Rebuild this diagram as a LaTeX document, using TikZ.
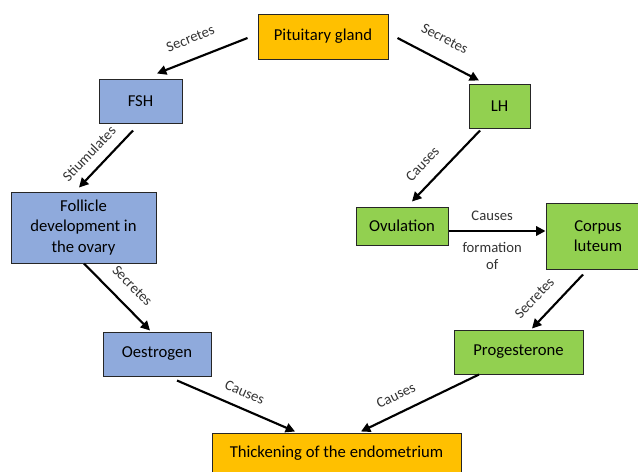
\documentclass[tikz,border=0pt]{standalone}
\usepackage{fontspec}
\setmainfont{Carlito}
\usetikzlibrary{arrows.meta,calc}
\definecolor{glandyellow}{HTML}{FFC000}
\definecolor{fshblue}{HTML}{8FAADC}
\definecolor{lhgreen}{HTML}{92D050}
\tikzstyle{box}=[draw=black!85,line width=0.75pt,inner sep=0pt,align=center,font=\fontsize{12.5}{15.5}\selectfont]
\tikzstyle{yellowbox}=[box,fill=glandyellow]
\tikzstyle{bluebox}=[box,fill=fshblue]
\tikzstyle{greenbox}=[box,fill=lhgreen]
\tikzstyle{arr}=[-{Triangle[length=7pt,width=7pt]},line width=1.6pt]
\tikzstyle{lbl}=[font=\fontsize{11}{13}\selectfont,inner xsep=1pt,text=black!80,align=center,sloped,anchor=south]

\begin{document}
\begin{tikzpicture}[x=0.75pt,y=-0.75pt]
  \useasboundingbox (0,0) rectangle (638,471);
  \node[yellowbox,minimum width=97.5pt,minimum height=33.75pt] (pit) at (323,36.5) {Pituitary gland};
  \node[bluebox,minimum width=62.25pt,minimum height=33pt] (fsh) at (140.5,101) {FSH};
  \node[greenbox,minimum width=45.75pt,minimum height=33pt] (lh) at (499.5,106) {LH};
  \node[bluebox,minimum width=108.75pt,minimum height=53.25pt] (fol) at (83.5,227.5) {Follicle\\development in\\the ovary};
  \node[greenbox,minimum width=69pt,minimum height=28.5pt] (ovu) at (402,226) {Ovulation};
  \node[greenbox,minimum width=78pt,minimum height=49.5pt] (cor) at (598,236) {Corpus\\luteum};
  \node[bluebox,minimum width=81pt,minimum height=33pt] (oes) at (157,354) {Oestrogen};
  \node[greenbox,minimum width=96.75pt,minimum height=33pt] (pro) at (518.5,352) {Progesterone};
  \node[yellowbox,minimum width=186.75pt,minimum height=30pt] (thi) at (336.5,453) {Thickening of the endometrium};

  \draw[arr] ($(pit.west)+(-10,1.5)$) -- node[lbl,pos=0.55,inner ysep=10.8pt] {Secretes} ($(fsh.north)+(16.5,-5)$);
  \draw[arr] ($(pit.east)+(9,1.5)$) -- node[lbl,pos=0.46,inner ysep=11.6pt] {Secretes} ($(lh.north)+(-20.5,-3)$);
  \draw[arr] ($(fsh.south)+(-7.5,7)$) -- node[lbl,pos=0.60,inner ysep=7.3pt] {Stiumulates} ($(fol.north)+(-4.5,-4)$);
  \draw[arr] ($(lh.south)+(-19.5,2)$) -- node[lbl,pos=0.65,inner ysep=9.5pt] {Causes} ($(ovu.north)+(10,-5)$);
  \draw[arr] ($(ovu.east)+(0,5)$) -- node[lbl,pos=0.45,inner ysep=7pt] {Causes} node[lbl,pos=0.45,anchor=north,inner ysep=7.5pt] {formation\\of} ($(ovu.east -| cor.west)+(0,5)$);
  \draw[arr] ($(fol.south)+(0.5,0)$) -- node[lbl,pos=0.53,inner ysep=9.8pt] {Secretes} ($(oes.north)+(-7,-1)$);
  \draw[arr] ($(cor.south)+(-15,5)$) -- node[lbl,pos=0.68,inner ysep=10pt] {Secretes} ($(pro.north)+(13.5,-1)$);
  \draw[arr] ($(oes.south)+(20,4)$) -- node[lbl,pos=0.52,inner ysep=7.8pt] {Causes} ($(thi.north)+(-41.5,-1)$);
  \draw[arr] ($(pro.south)+(-39.5,0)$) -- node[lbl,pos=0.64,inner ysep=8.5pt] {Causes} ($(thi.north)+(24.5,-1)$);
\end{tikzpicture}
\end{document}
